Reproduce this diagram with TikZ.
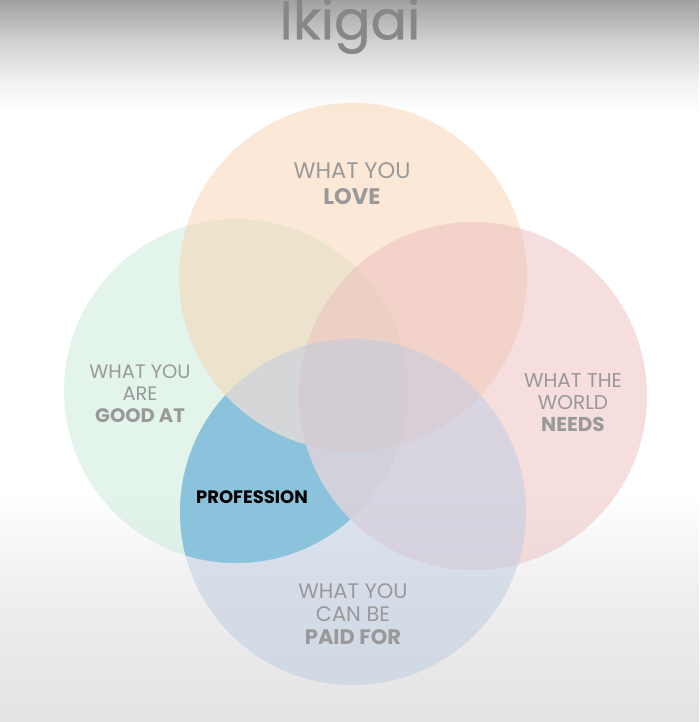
\documentclass[tikz,border=0pt]{standalone}
\usepackage{fontspec}
\setmainfont{Poppins}
\pgfdeclareverticalshading{topfade}{100bp}{color(0bp)=(white); color(35bp)=(white); color(47bp)=(black!6); color(60bp)=(black!18); color(75bp)=(black!37); color(100bp)=(black!37)}
\pgfdeclareverticalshading{botfade}{100bp}{color(0bp)=(black!11); color(25bp)=(black!11); color(50bp)=(black!6); color(67bp)=(white); color(100bp)=(white)}
\begin{document}
\begin{tikzpicture}[x=1pt,y=-1pt,
  circ/.style={fill opacity=0.5},
  lbl/.style={text=black!40, align=center, inner sep=0pt}]
\definecolor{lovec}{RGB}{248,211,174}
\definecolor{goodc}{RGB}{200,234,217}
\definecolor{worldc}{RGB}{236,190,189}
\definecolor{paidc}{RGB}{188,203,227}
\definecolor{profc}{RGB}{140,195,220}
\useasboundingbox (0,0) rectangle (699,722);
% background
\fill[white] (0,0) rectangle (699,722);
\shade[shading=topfade] (0,0) rectangle (699,140);
\shade[shading=botfade] (0,450) rectangle (699,722);
% circles
\fill[goodc, circ] (236,391) circle (172);
\fill[lovec, circ] (353,277) circle (174);
\fill[worldc, circ] (473,396) circle (174);
\fill[paidc, circ] (353,512) circle (173);
% profession region
\begin{scope}
  \clip (236,391) circle (172);
  \clip (353,512) circle (173);
  \begin{scope}[even odd rule]
    \clip (0,0) rectangle (699,722) (353,277) circle (174);
    \begin{scope}[even odd rule]
      \clip (0,0) rectangle (699,722) (473,396) circle (174);
      \fill[profc] (0,0) rectangle (699,722);
    \end{scope}
  \end{scope}
\end{scope}
% title
\node[text=black!47, font=\fontsize{54}{60}\selectfont\addfontfeature{FakeBold=0.8}, inner sep=0pt] (title) at (350,26) {Ikigai};
% labels
\node[lbl, font=\fontsize{22.5}{26}\selectfont] (love) at (352,184) {WHAT YOU\\{\bfseries LOVE}};
\node[lbl, font=\fontsize{19.5}{22}\selectfont] (good) at (140,394) {WHAT YOU\\ARE\\{\bfseries GOOD AT}};
\node[lbl, font=\fontsize{20}{22}\selectfont] (world) at (573,403) {WHAT THE\\WORLD\\{\bfseries NEEDS}};
\node[lbl, font=\fontsize{21}{23}\selectfont] (paid) at (353,614) {WHAT YOU\\CAN BE\\{\bfseries PAID FOR}};
\node[text=black, font=\fontsize{18}{20}\selectfont\bfseries, inner sep=0pt] (prof) at (252,497) {PROFESSION};
\end{tikzpicture}
\end{document}
